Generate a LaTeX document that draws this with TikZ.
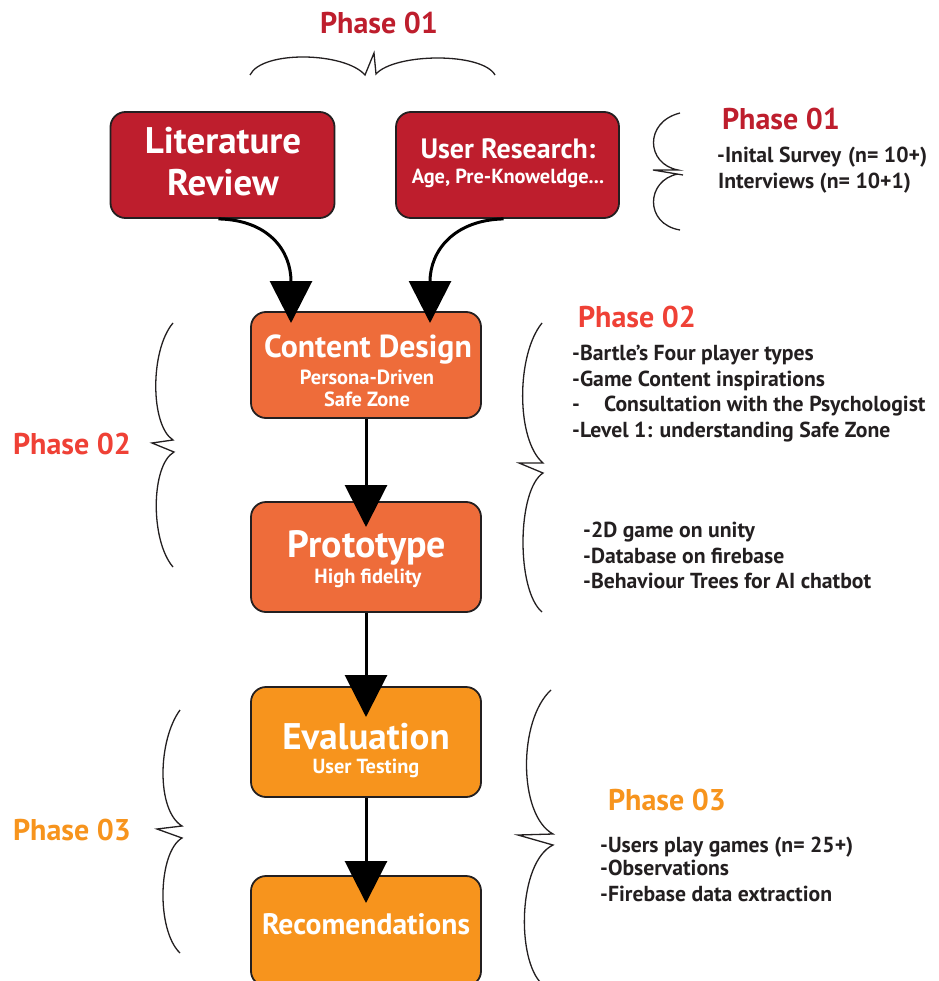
\documentclass[tikz,border=0pt]{standalone}
\usepackage{fontspec}
\setmainfont{PT Sans}
\usetikzlibrary{arrows.meta,calc}
\definecolor{pone}{HTML}{BE1E2D}
\definecolor{ptwobox}{HTML}{EE6C3A}
\definecolor{ptwotxt}{HTML}{EF4136}
\definecolor{pthree}{HTML}{F7941D}
\definecolor{ink}{HTML}{231F20}
\newcommand\fsz[1]{\fontsize{#1}{#1}\selectfont}
\tikzset{
  box/.style={draw=ink, line width=1.8pt, rounded corners=15pt, inner sep=0pt},
  intext/.style={text=white, font=\bfseries\fsz{#1}, inner sep=0pt, anchor=base},
  flow/.style={draw=black, line width=3pt, -{Triangle[length=42pt,width=42pt]}},
  brace/.style={draw=ink, line width=1.3pt, line join=miter},
  phase/.style={font=\bfseries\fsz{30}, inner sep=0pt, anchor=base},
  listtxt/.style={font=\bfseries\fsz{21.7}, text=ink, inner sep=0pt, anchor=base west}
}
\begin{document}
\begin{tikzpicture}[x=1pt,y=-1pt]
\useasboundingbox (0,0) rectangle (938,981);
\fill[white] (0,0) rectangle (938,981);

% boxes
\node[box, fill=pone, minimum width=224pt, minimum height=106pt] (lit) at (222.5,165) {};
\node[box, fill=pone, minimum width=223pt, minimum height=106pt] (ur) at (507.5,165) {};
\node[box, fill=ptwobox, minimum width=230pt, minimum height=106pt] (cd) at (366,365) {};
\node[box, fill=ptwobox, minimum width=230pt, minimum height=110pt] (pt) at (366,557) {};
\node[box, fill=pthree, minimum width=230pt, minimum height=110pt] (ev) at (366,742) {};
\node[box, fill=pthree, minimum width=230pt, minimum height=110pt] (rec) at (366,931) {};

% box texts
\node[intext=37] (lit1) at (223,154) {Literature};
\node[intext=37] (lit2) at (223,196) {Review};
\node[intext=28] (ur1) at (508,159) {User Research:};
\node[intext=20.4] (ur2) at (508,184) {Age, Pre-Knoweldge...};
\node[intext=31.8] (cd1) at (368,357) {Content Design};
\node[intext=20.5] (cd2) at (367,384) {Persona-Driven};
\node[intext=20.5] (cd3) at (367,406) {Safe Zone};
\node[intext=38] (pt1) at (367,557) {Prototype};
\node[intext=20.5] (pt2) at (368,583) {High fidelity};
\node[intext=37] (ev1) at (366,749) {Evaluation};
\node[intext=20.4] (ev2) at (366,773) {User Testing};
\node[intext=29.6] (rec1) at (366,934) {Recomendations};

% arrow tips
\coordinate (t1) at (291,323);
\coordinate (t2) at (430,323);
\coordinate (t3) at (366,527);
\coordinate (t4) at (366,717);
\coordinate (t5) at (366,903);

\draw[flow] ($(lit.south)+(-4,0)$) .. controls (268,220) and (291,250) .. (t1);
\draw[flow] ($(ur.south)+(-4,0)$) .. controls (455,220) and (430,250) .. (t2);
\draw[flow] (cd.south) -- (t3);
\draw[flow] (pt.south) -- (t4);
\draw[flow] (ev.south) -- (t5);

% braces
\draw[brace] (250,75) .. controls (262,50) and (345,52) .. (365,75) -- (374,53) -- (376,74)
  .. controls (395,53) and (482,52) .. (495,75);
\draw[brace] (680,113) .. controls (644,122) and (646,164) .. (678,170) -- (653,170) -- (683,175)
  (678,174) .. controls (646,180) and (644,224) .. (680,230);
\draw[brace] (173,323) .. controls (150,350) and (150,425) .. (173,440) -- (152,443) -- (174,452)
  .. controls (151,465) and (150,540) .. (173,567);
\draw[brace] (542,323) .. controls (516,355) and (516,440) .. (543,463) -- (519,463) -- (543,473)
  .. controls (517,490) and (516,590) .. (542,612);
\draw[brace] (180,710) .. controls (158,740) and (156,810) .. (182,826) -- (157,829) -- (182,838)
  .. controls (158,852) and (156,930) .. (180,953);
\draw[brace] (551,690) .. controls (518,720) and (518,815) .. (553,834) -- (518,835) -- (553,845)
  .. controls (518,862) and (516,960) .. (542,984);

% phase labels
\node[phase, text=pone] (ph1top) at (379,34) {Phase 01};
\node[phase, text=pone] (ph1r) at (781,130) {Phase 01};
\node[phase, text=ptwotxt] (ph2r) at (637,327) {Phase 02};
\node[phase, text=ptwotxt] (ph2l) at (72,454) {Phase 02};
\node[phase, text=pthree] (ph3l) at (72,840) {Phase 03};
\node[phase, text=pthree] (ph3r) at (667,810) {Phase 03};

% lists
\node[listtxt] (l1a) at (717,163) {-Inital Survey\hspace{7pt}(n= 10+)};
\node[listtxt] (l1b) at (718,189) {Interviews (n= 10+1)};
\node[listtxt] (l2a) at (572,360) {-Bartle’s Four player types};
\node[listtxt] (l2b) at (572,386) {-Game Content inspirations};
\node[listtxt] (l2c) at (572,411) {-};
\node[listtxt] (l2d) at (604,411) {Consultation with the Psychologist};
\node[listtxt] (l2e) at (572,437) {-Level 1: understanding Safe Zone};
\node[listtxt] (l3a) at (583,537) {-2D game on unity};
\node[listtxt] (l3b) at (583,563) {-Database on firebase};
\node[listtxt] (l3c) at (583,588) {-Behaviour Trees for AI chatbot};
\node[listtxt] (l4a) at (600,852) {-Users play games (n= 25+)};
\node[listtxt] (l4b) at (600,875) {-Observations};
\node[listtxt] (l4c) at (600,901) {-Firebase data extraction};
\end{tikzpicture}
\end{document}
